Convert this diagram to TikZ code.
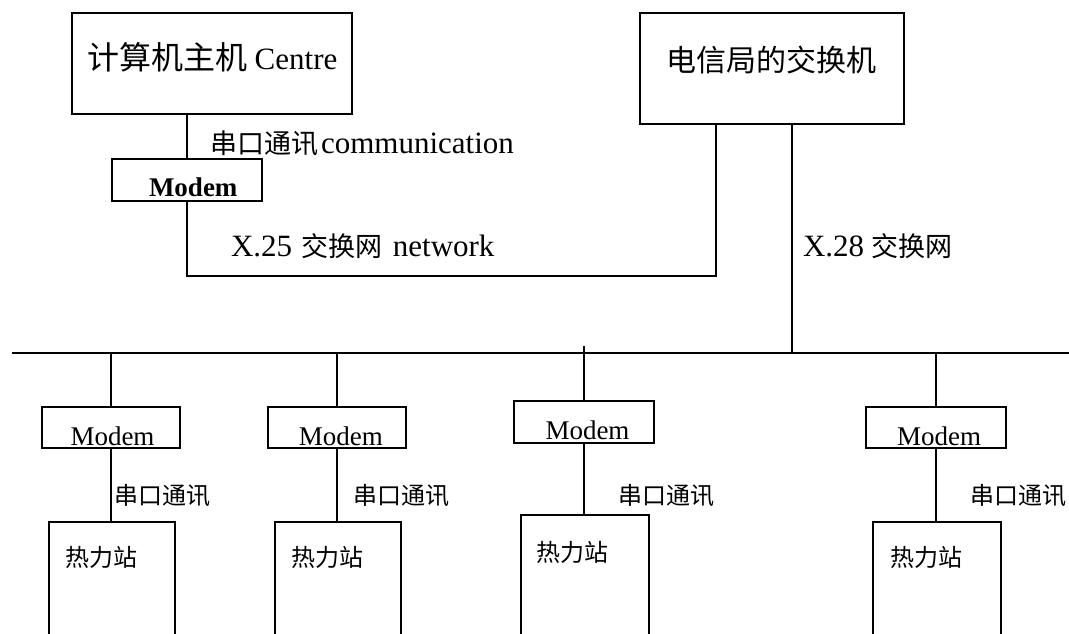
\documentclass[tikz,border=0pt]{standalone}
\usepackage{fontspec}
\setmainfont{Liberation Serif}
\newfontfamily\cjk{Noto Sans CJK SC}
\begin{document}
\begin{tikzpicture}[x=1pt,y=-1pt,
  line width=2pt,
  box/.style={draw, rectangle, inner sep=0pt, line width=2pt},
  txt/.style={inner sep=0pt, anchor=base west},
  lat/.style={font=\fontsize{31}{36}\selectfont},
  cjklab/.style={font=\cjk\fontsize{24}{28}\selectfont},
  modemtxt/.style={font=\fontsize{27}{30}\selectfont}]
\useasboundingbox (0,0) rectangle (1069,633);
\clip (0,0) rectangle (1069,633);

% main boxes
\node[box, minimum width=280pt, minimum height=101pt] (centre) at (212,63.5) {};
\node[box, minimum width=264pt, minimum height=111pt] (exch) at (772,68.5) {};
\node[box, minimum width=150pt, minimum height=42pt] (mt) at (187,180) {};

\node[txt, lat] (centreT) at (86,69) {{\cjk\fontsize{32}{36}\selectfont 计算机主机} Centre};
\node[txt, font=\cjk\fontsize{30}{34}\selectfont] (exchT) at (665.5,71.4) {电信局的交换机};
\node[txt, font=\bfseries\fontsize{27}{30}\selectfont] (mtT) at (148,196.7) {Modem};

% top labels
\node[txt, lat] (lab1) at (209,153.3) {{\cjk\fontsize{27}{30}\selectfont 串口通讯}\hspace{3pt}communication};
\node[txt, lat] (lab25) at (230,256.7) {X.25 \hspace{2pt}{\cjk\fontsize{27}{30}\selectfont 交换网}\hspace{10pt}network};
\node[txt, lat] (lab28) at (802,256.7) {X.28 {\cjk\fontsize{27}{30}\selectfont 交换网}};

% coordinates
\coordinate (j25) at (716,276);
\coordinate (j28) at (792,353);
\coordinate (busL) at (12,353);
\coordinate (busR) at (1069,353);
\coordinate (d3top) at (584,346);

% bottom modems
\node[box, minimum width=138pt, minimum height=41pt] (m1) at (111,427.5) {};
\node[box, minimum width=138pt, minimum height=41pt] (m2) at (337,427.5) {};
\node[box, minimum width=140pt, minimum height=42pt] (m3) at (584,422) {};
\node[box, minimum width=140pt, minimum height=41pt] (m4) at (936,427.5) {};

\node[txt, modemtxt] (m1T) at (69.5,445) {Modem};
\node[txt, modemtxt] (m2T) at (297.8,445) {Modem};
\node[txt, modemtxt] (m3T) at (544.5,439) {Modem};
\node[txt, modemtxt] (m4T) at (896.2,445) {Modem};

% stations
\node[box, anchor=north west, minimum width=126pt, minimum height=160pt] (s1) at (48,521) {};
\node[box, anchor=north west, minimum width=126pt, minimum height=160pt] (s2) at (274,521) {};
\node[box, anchor=north west, minimum width=128pt, minimum height=170pt] (s3) at (520,514) {};
\node[box, anchor=north west, minimum width=128pt, minimum height=160pt] (s4) at (872,521) {};

\node[txt, cjklab] (s1T) at (64,566) {热力站};
\node[txt, cjklab] (s2T) at (290.7,566) {热力站};
\node[txt, cjklab] (s3T) at (535.7,561) {热力站};
\node[txt, cjklab] (s4T) at (889,566) {热力站};

% serial labels
\node[txt, cjklab] (c1) at (113.3,504) {串口通讯};
\node[txt, cjklab] (c2) at (352.6,504) {串口通讯};
\node[txt, cjklab] (c3) at (617.3,504) {串口通讯};
\node[txt, cjklab] (c4) at (969.7,504) {串口通讯};

% connectors
\draw (mt.north |- centre.south) -- (mt.north);
\draw (mt.south) |- (j25) -- (j25 |- exch.south);
\draw (j28 |- exch.south) -- (j28);
\draw (busL) -- (busR);

\draw (m1.north |- busL) -- (m1.north);
\draw (m2.north |- busL) -- (m2.north);
\draw (d3top) -- (d3top |- m3.north);
\draw (m4.north |- busL) -- (m4.north);

\draw (m1.south) -- (m1.south |- s1.north);
\draw (m2.south) -- (m2.south |- s2.north);
\draw (m3.south) -- (m3.south |- s3.north);
\draw (m4.south) -- (m4.south |- s4.north);
\end{tikzpicture}
\end{document}
